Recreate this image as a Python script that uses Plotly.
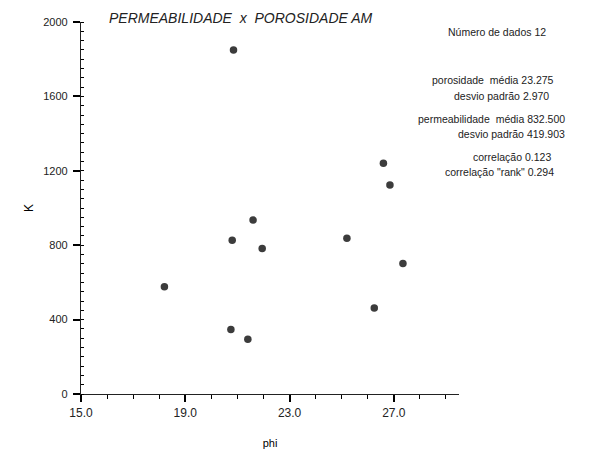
import plotly.graph_objects as go

# Porosity (phi, %) and permeability (K, mD) for the 12 samples
phi = [20.85, 26.6, 26.85, 21.6, 20.8, 21.95, 25.2, 27.35, 26.25, 20.75, 21.4, 18.2]
perm = [1850, 1241, 1124, 935, 827, 782, 837, 702, 462, 347, 295, 576]

stats_lines = [
    "Número de dados 12",
    "porosidade  média 23.275",
    "desvio padrão 2.970",
    "permeabilidade  média 832.500",
    "desvio padrão 419.903",
    "correlação 0.123",
    "correlação \"rank\" 0.294",
]
# vertical position (px from top) and right edge (px from left) of each line
stats_y = [32, 80, 96, 119, 134, 157, 172]
stats_right = [548, 556, 551, 567, 567, 553, 556]

ink = "#222222"
font_family = "Liberation Sans, Arial, sans-serif"

W, H = 593, 460
M = dict(l=81, r=134, t=22, b=66)

fig = go.Figure()
fig.add_trace(go.Scatter(
    x=phi, y=perm, mode="markers",
    marker=dict(size=7.5, color="#3c3c3c", line=dict(width=0)),
    showlegend=False, hoverinfo="x+y",
))

fig.update_layout(
    width=W, height=H,
    margin=M,
    template="simple_white",
    font=dict(family=font_family, size=11, color=ink),
)
fig.update_xaxes(
    range=[15.0, 29.5], tick0=15, dtick=4, tickformat=".1f",
    showline=True, linecolor=ink, linewidth=1.3,
    ticks="outside", ticklen=7, tickwidth=1.6, tickcolor="black",
    minor=dict(dtick=1, ticks="outside", ticklen=4, tickwidth=1.4, tickcolor="black"),
    title_text="phi", title_standoff=20, title_font_color="black", title_font_size=11,
    tickfont_size=12,
)
fig.update_yaxes(
    range=[0, 2000], tick0=0, dtick=400,
    showline=True, linecolor=ink, linewidth=1.3,
    ticks="outside", ticklen=7, tickwidth=1.6, tickcolor="black",
    ticklabelstandoff=3,
    minor=dict(dtick=50, ticks="inside", ticklen=3, tickwidth=1.4, tickcolor="black"),
    title_text="K", title_standoff=6, title_font_color="black", title_font_size=12,
    tickfont_size=11,
)

# Plot title in italics above the axes
fig.add_annotation(
    text="<i>PERMEABILIDADE  x  POROSIDADE AM</i>",
    xref="paper", yref="paper", x=0.068, y=1.0,
    xanchor="left", yanchor="bottom", yshift=-6,
    showarrow=False, font=dict(size=14, color=ink),
)

# Summary statistics block, right-aligned
plot_w = W - M["l"] - M["r"]
plot_h = H - M["t"] - M["b"]
for line, ypix, xr in zip(stats_lines, stats_y, stats_right):
    fig.add_annotation(
        text=line, xref="paper", yref="paper",
        x=(xr - M["l"]) / plot_w, y=1 - (ypix - M["t"]) / plot_h,
        xanchor="right", yanchor="middle",
        showarrow=False, font=dict(size=10.5, color=ink),
    )

fig.write_html("out.html")
